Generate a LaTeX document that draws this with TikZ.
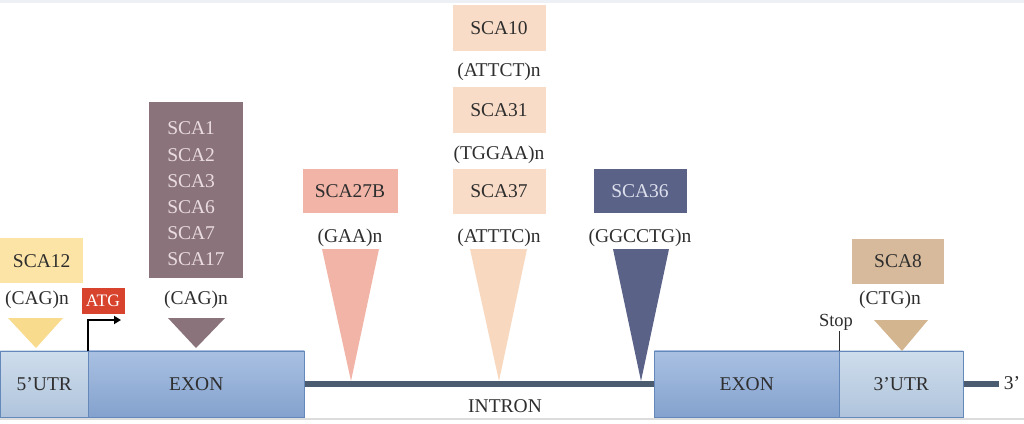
\documentclass[tikz,border=0pt]{standalone}
\usepackage{fontspec}
\setmainfont{Liberation Serif}
\usetikzlibrary{arrows.meta}
\definecolor{txt}{HTML}{2E2E2E}
\definecolor{topstrip}{HTML}{EDF1F6}
\definecolor{botline}{HTML}{DCDCDC}
\definecolor{utrtop}{HTML}{CFDDEC}
\definecolor{utrbot}{HTML}{AFC4DC}
\definecolor{exontop}{HTML}{A9C0E2}
\definecolor{exonbot}{HTML}{84A2CE}
\definecolor{boxline}{HTML}{6588BA}
\definecolor{introncol}{HTML}{4B5B70}
\definecolor{atgred}{HTML}{D8432E}
\definecolor{yellowbox}{HTML}{FBE4A6}
\definecolor{yellowtri}{HTML}{F8DB8D}
\definecolor{mauve}{HTML}{8A737B}
\definecolor{mauvetext}{HTML}{EADCE0}
\definecolor{salmon}{HTML}{F1B4A6}
\definecolor{peach}{HTML}{F9DCC7}
\definecolor{peachtri}{HTML}{F8D9C0}
\definecolor{slate}{HTML}{5A6288}
\definecolor{slatetext}{HTML}{DDE0EC}
\definecolor{tan}{HTML}{D6BA9B}
\definecolor{tantri}{HTML}{D3B590}
\begin{document}
\begin{tikzpicture}[x=1pt,y=-1pt,
  font=\fontsize{19.5}{22}\selectfont,
  lbl/.style={text=txt, inner sep=0pt},
  scabox/.style={minimum width=93pt, minimum height=45pt, inner sep=0pt, text=txt},
  utrbox/.style={draw=boxline, line width=0.6pt, top color=utrtop, bottom color=utrbot, text=txt, inner sep=0pt, minimum height=66pt},
  exonbox/.style={draw=boxline, line width=0.6pt, top color=exontop, bottom color=exonbot, text=txt, inner sep=0pt, minimum height=66pt},
  dnaline/.style={draw=introncol, line width=6.5pt}]
\useasboundingbox (0,0) rectangle (1024,423);
\fill[white] (0,0) rectangle (1024,423);
\fill[topstrip] (0,0) rectangle (1024,2.5);
\fill[botline] (0,417.5) rectangle (1024,419.5);

% gene structure
\node[utrbox, minimum width=88pt, anchor=north west] (utr5) at (0,350.5) {5’UTR};
\node[exonbox, minimum width=216pt, anchor=north west] (exon1) at (88,350.5) {EXON};
\node[exonbox, minimum width=185pt, anchor=north west] (exon2) at (654,350.5) {EXON};
\node[utrbox, minimum width=124pt, anchor=north west] (utr3) at (839,350.5) {3’UTR};
\node[lbl] (three) at (1012,383) {3’};
\node[lbl] (intron) at (505,406) {INTRON};
\draw[dnaline] (exon1.east) -- (exon2.west);
\draw[dnaline] (utr3.east) -- ([xshift=-5pt]utr3.east -| three.west);

% stop
\node[lbl, font=\fontsize{18.5}{20}\selectfont] (stop) at (836,322) {Stop};
\draw[txt, line width=0.8pt] (exon2.north east) -- ([yshift=-1pt]stop.south -| exon2.north east);

% ATG
\node[fill=atgred, text=white, inner sep=0pt, minimum width=43pt, minimum height=26pt, font=\fontsize{17.5}{19}\selectfont] (atg) at (103,301) {ATG};
\coordinate (atgtip) at (121,320);
\draw[line width=1.8pt, -{Triangle[length=7pt,width=8pt]}] (exon1.north west) |- (atgtip);

% SCA12
\node[scabox, fill=yellowbox, minimum width=83pt, anchor=north west] (sca12) at (0,238) {SCA12};
\node[lbl] (cag1) at (37,300) {(CAG)n};
\fill[yellowtri] (8,318) -- (63,318) -- (36,348) -- cycle;

% SCA1..SCA17
\node[fill=mauve, minimum width=94pt, minimum height=176pt, inner sep=0pt] (scalist) at (196,190) {};
\node[text=mauvetext, inner sep=0pt, align=left, font=\fontsize{19.5}{26.2}\selectfont] (scanames) at (196,194) {SCA1\\SCA2\\SCA3\\SCA6\\SCA7\\SCA17};
\node[lbl] (cag2) at (196,300) {(CAG)n};
\fill[mauve] (168,318) -- (225,318) -- (196,348) -- cycle;

% SCA27B
\node[scabox, fill=salmon, minimum width=95pt, minimum height=44pt] (sca27b) at (350,191) {SCA27B};
\node[lbl] (gaa) at (350,238) {(GAA)n};
\fill[salmon] (322,249) -- (379,249) -- (351,381) -- cycle;

% SCA10 / SCA31 / SCA37
\node[scabox, fill=peach, minimum height=46pt] (sca10) at (499,28) {SCA10};
\node[lbl] (attct) at (499,72) {(ATTCT)n};
\node[scabox, fill=peach, minimum height=46pt] (sca31) at (499,110) {SCA31};
\node[lbl] (tggaa) at (499,155) {(TGGAA)n};
\node[scabox, fill=peach, minimum height=45pt] (sca37) at (499,191) {SCA37};
\node[lbl] (atttc) at (499,238) {(ATTTC)n};
\fill[peachtri] (470,249) -- (527,249) -- (499,381) -- cycle;

% SCA36
\node[scabox, fill=slate, text=slatetext, minimum height=44pt] (sca36) at (640,191) {SCA36};
\node[lbl] (ggcctg) at (640,238) {(GGCCTG)n};
\fill[slate] (613,249) -- (669,249) -- (641,381) -- cycle;

% SCA8
\node[scabox, fill=tan, minimum width=92pt] (sca8) at (898,261) {SCA8};
\node[lbl] (ctg) at (890,300) {(CTG)n};
\fill[tantri] (874,320) -- (928,320) -- (902,351) -- cycle;
\end{tikzpicture}
\end{document}
